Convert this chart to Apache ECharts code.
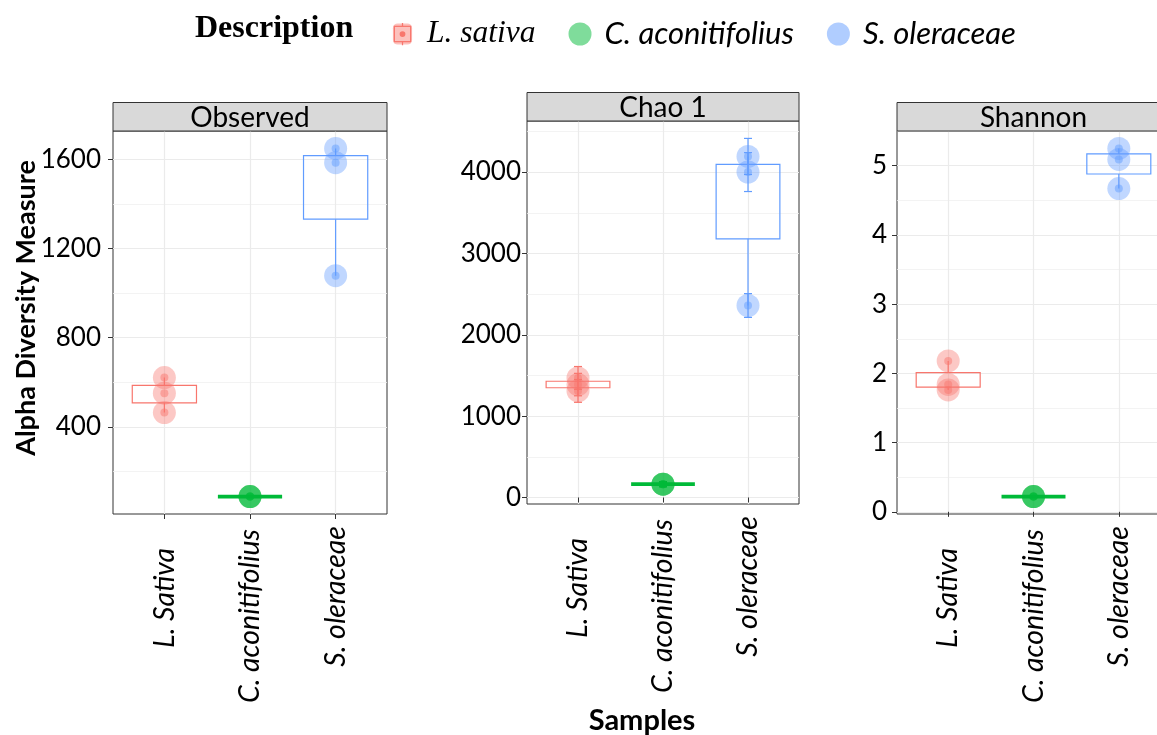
<!DOCTYPE html>
<html>
<head>
<meta charset="utf-8">
<script src="https://cdn.jsdelivr.net/npm/echarts@6/dist/echarts.min.js"></script>
<style>html,body{margin:0;padding:0;background:#fff}#chart{width:1157px;height:735px}</style>
</head>
<body>
<div id="chart"></div>
<script>
// ---------------- data ----------------
const categories = ['L. Sativa', 'C. aconitifolius', 'S. oleraceae'];
const groups = ['L. sativa', 'C. aconitifolius', 'S. oleraceae'];
const panelTitles = ['Observed', 'Chao 1', 'Shannon'];

const observedLSativa = [464, 551, 621];
const observedCAconitifolius = [87, 87, 87];
const observedSOleraceae = [1078, 1585, 1649];

const chao1LSativa = [1310, 1388, 1470];
const chao1CAconitifolius = [164, 164, 164];
const chao1SOleraceae = [2360, 4000, 4192];
const chao1SeLSativa = [140, 138, 140];
const chao1SeCAconitifolius = [30, 30, 30];
const chao1SeSOleraceae = [146, 239, 222];

const shannonLSativa = [1.76, 1.84, 2.18];
const shannonCAconitifolius = [0.22, 0.22, 0.22];
const shannonSOleraceae = [4.67, 5.09, 5.25];

const yTicksObserved = [400, 800, 1200, 1600];
const yTicksChao1 = [0, 1000, 2000, 3000, 4000];
const yTicksShannon = [0, 1, 2, 3, 4, 5];
const xTicks = [1, 2, 3];

// ---------------- styles / layout ----------------
const colors = ['#F8766D', '#00BA38', '#619CFF'];
const rgba = (hex, a) => {
  const n = parseInt(hex.slice(1), 16);
  return 'rgba(' + (n >> 16 & 255) + ',' + (n >> 8 & 255) + ',' + (n & 255) + ',' + a + ')';
};
const layout = [
  { left: 113, top: 131, width: 274, height: 383, labelMargin: 12 },
  { left: 527, top: 121, width: 272, height: 383, labelMargin: 6 },
  { left: 897, top: 131, width: 273, height: 383, labelMargin: 10 }
];
const stripH = 28.5;
const FONT = 'Lato';

const panels = [
  { values: [observedLSativa, observedCAconitifolius, observedSOleraceae], se: null, ticks: yTicksObserved },
  { values: [chao1LSativa, chao1CAconitifolius, chao1SOleraceae], se: [chao1SeLSativa, chao1SeCAconitifolius, chao1SeSOleraceae], ticks: yTicksChao1 },
  { values: [shannonLSativa, shannonCAconitifolius, shannonSOleraceae], se: null, ticks: yTicksShannon }
];

// ---------------- stats helpers ----------------
function quantile7(s, p) {
  const h = (s.length - 1) * p, lo = Math.floor(h);
  const hi = Math.min(lo + 1, s.length - 1);
  return s[lo] + (h - lo) * (s[hi] - s[lo]);
}
function boxStats(vals) {
  const s = vals.slice().sort((a, b) => a - b);
  const q1 = quantile7(s, 0.25), med = quantile7(s, 0.5), q3 = quantile7(s, 0.75);
  const iqr = q3 - q1;
  const lo = Math.min.apply(null, s.filter(v => v >= q1 - 1.5 * iqr));
  const hi = Math.max.apply(null, s.filter(v => v <= q3 + 1.5 * iqr));
  return [lo, q1, med, q3, hi];
}
function panelRange(panel) {
  let mn = Infinity, mx = -Infinity;
  panel.values.forEach((vals, g) => vals.forEach((v, i) => {
    const e = panel.se ? panel.se[g][i] : 0;
    mn = Math.min(mn, v - e); mx = Math.max(mx, v + e);
  }));
  const r = mx - mn;
  return [mn - 0.05 * r, mx + 0.05 * r];
}

// ---------------- renderers ----------------
function boxRenderer(color) {
  return function (params, api) {
    const x = api.value(0);
    const pLo = api.coord([x, api.value(1)]);
    const pQ1 = api.coord([x, api.value(2)]);
    const pMed = api.coord([x, api.value(3)]);
    const pQ3 = api.coord([x, api.value(4)]);
    const pHi = api.coord([x, api.value(5)]);
    const hw = api.size([0.75, 0])[0] / 2;
    const cx = pMed[0];
    const h = pQ1[1] - pQ3[1];
    const st = { stroke: color, lineWidth: 1.2, fill: null };
    const children = [
      { type: 'line', shape: { x1: cx, y1: pQ3[1], x2: cx, y2: pHi[1] }, style: st },
      { type: 'line', shape: { x1: cx, y1: pQ1[1], x2: cx, y2: pLo[1] }, style: st }
    ];
    if (h < 2) {
      children.push({ type: 'line', shape: { x1: cx - hw, y1: pMed[1], x2: cx + hw, y2: pMed[1] }, style: { stroke: color, lineWidth: 3.6 } });
    } else {
      children.push({ type: 'rect', shape: { x: cx - hw, y: pQ3[1], width: 2 * hw, height: h }, style: { stroke: color, lineWidth: 1.2, fill: 'rgba(255,255,255,0)' } });
    }
    return { type: 'group', children: children };
  };
}
function errRenderer(color) {
  return function (params, api) {
    const x = api.value(0);
    const a = api.coord([x, api.value(1)]);
    const b = api.coord([x, api.value(2)]);
    const st = { stroke: color, lineWidth: 1.2 };
    return {
      type: 'group',
      children: [
        { type: 'line', shape: { x1: a[0], y1: a[1], x2: b[0], y2: b[1] }, style: st },
        { type: 'line', shape: { x1: a[0] - 4, y1: a[1], x2: a[0] + 4, y2: a[1] }, style: st },
        { type: 'line', shape: { x1: b[0] - 4, y1: b[1], x2: b[0] + 4, y2: b[1] }, style: st }
      ]
    };
  };
}

// ---------------- build option ----------------
const grids = [], xAxes = [], yAxes = [], series = [], graphics = [];
const labelPad = [22, 3, 0];
const xRich = {};
categories.forEach((c, i) => {
  xRich['c' + i] = { fontFamily: FONT, fontStyle: 'italic', fontSize: 28.5, color: '#000', padding: [0, labelPad[i], 0, 0] };
});

panels.forEach((panel, p) => {
  const L = layout[p];
  const range = panelRange(panel);
  const iv = panel.ticks[1] - panel.ticks[0];
  grids.push({
    left: L.left, top: L.top, width: L.width, height: L.height,
    containLabel: false, outerBoundsMode: 'none',
    show: true, borderColor: '#333', borderWidth: 1, backgroundColor: 'rgba(0,0,0,0)'
  });
  xAxes.push({
    type: 'value', gridIndex: p, min: 0.4, max: 3.6, minInterval: 1, maxInterval: 1,
    axisLine: { show: false },
    axisTick: { show: true, length: 5, customValues: xTicks, lineStyle: { color: '#333', width: 1 } },
    axisLabel: {
      customValues: xTicks, rotate: 90, margin: 12,
      formatter: v => '{c' + (v - 1) + '|' + categories[v - 1] + '}',
      rich: xRich
    },
    splitLine: { show: true, lineStyle: { color: '#EBEBEB', width: 1.2 } }
  });
  yAxes.push({
    type: 'value', gridIndex: p, min: range[0], max: range[1], minInterval: iv, maxInterval: iv,
    axisLine: { show: false },
    axisTick: { show: true, length: 5, customValues: panel.ticks, lineStyle: { color: '#333', width: 1 } },
    axisLabel: { customValues: panel.ticks, margin: L.labelMargin, fontFamily: FONT, fontSize: 26, color: '#000', formatter: v => String(v) },
    splitLine: { show: true, lineStyle: { color: '#EBEBEB', width: 1.2 } },
    minorTick: { show: false, splitNumber: 2 },
    minorSplitLine: { show: true, lineStyle: { color: '#F0F0F0', width: 0.8 } }
  });

  panel.values.forEach((vals, g) => {
    const col = colors[g];
    series.push({
      type: 'custom', name: groups[g], xAxisIndex: p, yAxisIndex: p, z: 2, silent: true,
      renderItem: boxRenderer(col),
      encode: { x: 0, y: [1, 2, 3, 4, 5] },
      data: [[g + 1].concat(boxStats(vals))]
    });
    if (panel.se) {
      series.push({
        type: 'custom', name: groups[g], xAxisIndex: p, yAxisIndex: p, z: 3, silent: true,
        renderItem: errRenderer(col),
        encode: { x: 0, y: [1, 2] },
        data: vals.map((v, i) => [g + 1, v - panel.se[g][i], v + panel.se[g][i]])
      });
    }
    series.push({
      type: 'scatter', name: groups[g], xAxisIndex: p, yAxisIndex: p, z: 4, silent: true,
      symbolSize: 23, itemStyle: { color: rgba(col, 0.5), borderWidth: 0 },
      data: vals.map(v => [g + 1, v])
    });
    series.push({
      type: 'scatter', name: groups[g], xAxisIndex: p, yAxisIndex: p, z: 5, silent: true,
      symbolSize: 8, itemStyle: { color: rgba(col, 0.6), borderWidth: 0 },
      data: vals.map(v => [g + 1, v])
    });
  });

  // facet strip
  graphics.push({
    type: 'rect', silent: true, z: 10,
    shape: { x: L.left, y: L.top - stripH, width: L.width, height: stripH },
    style: { fill: '#D9D9D9', stroke: '#333', lineWidth: 1 }
  });
  graphics.push({
    type: 'text', silent: true, z: 11,
    x: L.left + L.width / 2, y: L.top - stripH / 2 + 1,
    style: { text: panelTitles[p], fontFamily: FONT, fontSize: 28, fill: '#000', align: 'center', verticalAlign: 'middle', textAlign: 'center', textVerticalAlign: 'middle' }
  });
});

graphics.push({
  type: 'text', silent: true, x: 195, y: 29,
  style: { text: 'Description', fontFamily: 'Liberation Serif', fontWeight: 'bold', fontSize: 32, fill: '#000', align: 'left', verticalAlign: 'middle', textAlign: 'left', textVerticalAlign: 'middle' }
});
graphics.push({
  type: 'text', silent: true, x: 26, y: 308, rotation: Math.PI / 2,
  style: { text: 'Alpha Diversity Measure', fontFamily: FONT, fontWeight: 'bold', fontSize: 27, fill: '#000', align: 'center', verticalAlign: 'middle', textAlign: 'center', textVerticalAlign: 'middle' }
});
graphics.push({
  type: 'text', silent: true, x: 642, y: 721,
  style: { text: 'Samples', fontFamily: FONT, fontWeight: 'bold', fontSize: 29, fill: '#000', align: 'center', verticalAlign: 'middle', textAlign: 'center', textVerticalAlign: 'middle' }
});

const pinkSvg = '<svg xmlns="http://www.w3.org/2000/svg" width="24" height="24" viewBox="0 0 24 24">' +
  '<rect x="2" y="1" width="20" height="22" rx="5" fill="#F8766D" fill-opacity="0.45"/>' +
  '<rect x="3.5" y="4" width="17" height="16" fill="none" stroke="#F8766D" stroke-width="1.3"/>' +
  '<line x1="12" y1="0" x2="12" y2="4" stroke="#F8766D" stroke-width="1.3"/>' +
  '<line x1="12" y1="20" x2="12" y2="24" stroke="#F8766D" stroke-width="1.3"/>' +
  '<circle cx="12" cy="12" r="3" fill="#F8766D"/></svg>';
const pinkIcon = 'image://data:image/svg+xml;charset=utf-8,' + encodeURIComponent(pinkSvg);

const option = {
  animation: false,
  backgroundColor: '#fff',
  textStyle: { fontFamily: FONT },
  grid: grids,
  xAxis: xAxes,
  yAxis: yAxes,
  legend: {
    left: 391, top: 18, padding: 0, itemWidth: 23, itemHeight: 23, itemGap: 33,
    selectedMode: false,
    data: [
      { name: groups[0], icon: pinkIcon, itemStyle: { borderWidth: 0 } },
      { name: groups[1], icon: 'circle', itemStyle: { color: rgba(colors[1], 0.5), borderWidth: 0 } },
      { name: groups[2], icon: 'circle', itemStyle: { color: rgba(colors[2], 0.5), borderWidth: 0 } }
    ],
    formatter: n => (n === groups[0] ? '{s|' : '{i|') + n + '}',
    textStyle: {
      rich: {
        s: { fontFamily: 'Liberation Serif', fontStyle: 'italic', fontSize: 31.5, color: '#000', padding: [0, 0, 0, 8] },
        i: { fontFamily: FONT, fontStyle: 'italic', fontSize: 31, color: '#000', padding: [0, 0, 0, 8] }
      }
    }
  },
  graphic: graphics,
  series: series
};

const chart = echarts.init(document.getElementById('chart'), null, { renderer: 'canvas' });
chart.setOption(option);
</script>
</body>
</html>
